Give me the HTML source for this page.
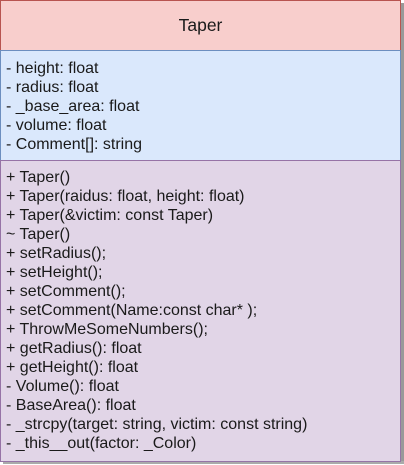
<!DOCTYPE html>
<html><head><meta charset="utf-8"><style>
body{margin:0;width:404px;height:465px;background:#fff;position:relative;overflow:hidden;font-family:"Liberation Sans",Arial,sans-serif;color:#1a1a1a}
div{position:absolute;box-sizing:border-box}
.t{font-size:16px;line-height:19px;left:6px;white-space:pre}
</style></head><body>
<div style="left:401px;top:3px;width:3px;height:460px;background:#999"></div>
<div style="left:3px;top:461px;width:401px;height:3px;background:#aaa"></div>
<div style="left:0;top:0;width:401px;height:51px;background:#f8cecc;border:1px solid #b85450"></div>
<div style="left:0;top:15px;width:401px;text-align:center;font-size:17.5px;line-height:20px">Taper</div>
<div style="left:0;top:50px;width:401px;height:111px;background:#dae8fc;border:1px solid #6c8ebf"></div>
<div style="left:0;top:160px;width:401px;height:302px;background:#e1d5e7;border:1px solid #9673a6"></div>
<div class="t" style="top:59px">- height: float
- radius: float
- _base_area: float
- volume: float
- Comment[]: string</div>
<div class="t" style="top:168px">+ Taper()
+ Taper(raidus: float, height: float)
+ Taper(&amp;victim: const Taper)
~ Taper()
+ setRadius();
+ setHeight();
+ setComment();
+ setComment(Name:const char* );
+ ThrowMeSomeNumbers();
+ getRadius(): float
+ getHeight(): float
- Volume(): float
- BaseArea(): float
- _strcpy(target: string, victim: const string)
- _this__out(factor: _Color)</div>
</body></html>
